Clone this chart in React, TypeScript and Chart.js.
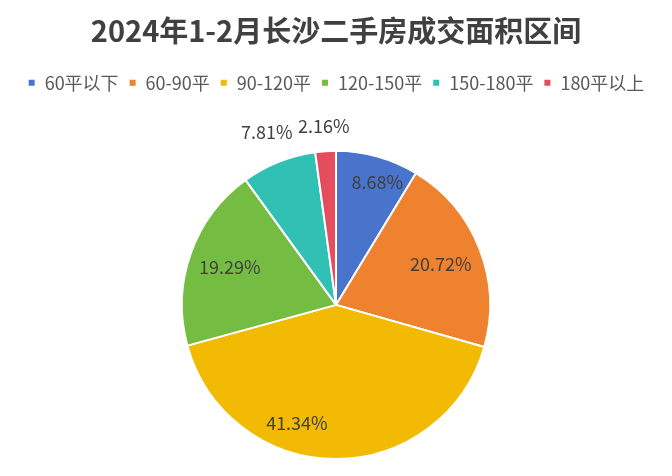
import React, { useEffect, useRef } from "react";
import { Chart, registerables } from "chart.js";

Chart.register(...registerables);

const TITLE = "2024年1-2月长沙二手房成交面积区间";
const categories = ["60平以下", "60-90平", "90-120平", "120-150平", "150-180平", "180平以上"];
const shares = [8.68, 20.72, 41.34, 19.29, 7.81, 2.16];
const colors = ["#4874CB", "#EE822F", "#F2BA02", "#75BD42", "#30C0B4", "#E54C5E"];

const FONT = "'Noto Sans CJK SC', 'Noto Sans', sans-serif";

const labelPlugin = {
  id: "sliceLabels",
  afterDatasetsDraw(chart: any) {
    const ctx = chart.ctx;
    const meta = chart.getDatasetMeta(0);
    ctx.save();
    ctx.font = `18px ${FONT}`;
    ctx.fillStyle = "#404040";
    ctx.textAlign = "center";
    ctx.textBaseline = "middle";
    meta.data.forEach((arc: any, i: number) => {
      const { x, y, startAngle, endAngle, outerRadius } = arc.getProps(
        ["x", "y", "startAngle", "endAngle", "outerRadius"],
        true
      );
      let mid = (startAngle + endAngle) / 2;
      const text = shares[i].toFixed(2) + "%";
      const pct = shares[i];
      let px: number, py: number;
      if (pct < 8) {
        const w = ctx.measureText(text).width;
        const c = Math.cos(mid), s = Math.sin(mid);
        const ext = Math.abs(c) * (w / 2) + Math.abs(s) * 9;
        const d = outerRadius + 14 + ext;
        px = x + c * d;
        py = y + s * d;
      } else {
        let f = 0.73;
        if (pct > 40) {
          mid += (18 * Math.PI) / 180;
          f = 0.81;
        } else if (pct < 10) {
          f = 0.84;
          mid += (3 * Math.PI) / 180;
        }
        px = x + Math.cos(mid) * outerRadius * f;
        py = y + Math.sin(mid) * outerRadius * f;
      }
      ctx.fillText(text, px, py);
    });
    ctx.restore();
  },
};

export default function App() {
  const ref = useRef<HTMLCanvasElement>(null);
  useEffect(() => {
    document.body.style.margin = "0";
    document.body.style.background = "#fff";
    const chart = new Chart(ref.current!, {
      type: "pie",
      data: {
        labels: categories,
        datasets: [
          {
            data: shares,
            backgroundColor: colors,
            borderColor: "#ffffff",
            borderWidth: 2,
          },
        ],
      },
      options: {
        animation: false,
        responsive: false,
        maintainAspectRatio: false,
        layout: { padding: { top: 0, bottom: 16, left: 0, right: 0 } },
        plugins: {
          title: {
            display: true,
            text: TITLE,
            color: "#404040",
            font: { size: 29, weight: "bold", family: FONT, lineHeight: 1.2 },
            padding: { top: 14, bottom: 15 },
          },
          subtitle: {
            display: true,
            text: " ",
            weight: 500,
            font: { size: 10, lineHeight: 1.2 },
            padding: { top: 18, bottom: 18 },
          } as any,
          legend: {
            position: "top",
            labels: {
              boxWidth: 8,
              boxHeight: 8,
              color: "#595959",
              font: { size: 18, family: FONT },
              padding: 10,
            },
          },
          tooltip: { enabled: false },
        },
      },
      plugins: [labelPlugin],
    });
    return () => chart.destroy();
  }, []);
  return <canvas ref={ref} width={672} height={476} style={{ display: "block" }} />;
}
